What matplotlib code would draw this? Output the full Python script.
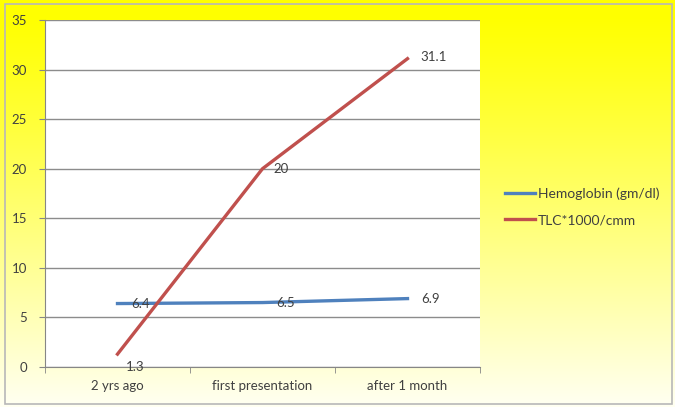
import numpy as np
from matplotlib import pyplot as plt
from matplotlib.patches import Rectangle

plt.rcParams['font.family'] = ['Lato', 'DejaVu Sans']

# chart data
visits = ["2 yrs ago", "first presentation", "after 1 month"]
hemoglobin = [6.4, 6.5, 6.9]
tlc = [1.3, 20, 31.1]
hb_labels = ["6.4", "6.5", "6.9"]
tlc_labels = ["1.3", "20", "31.1"]

W, H = 675, 407
TXT = "#404040"
fig = plt.figure(figsize=(W / 100, H / 100), dpi=100)

# yellow gradient backdrop, strong at the top, fading toward the bottom
bg = fig.add_axes([0, 0, 1, 1], zorder=-10)
t = np.clip((np.linspace(0, 1, 256) - 0.04) / 0.96, 0, 1) ** 1.1
grad = np.zeros((256, 1, 3))
grad[:, 0, 0] = 1.0
grad[:, 0, 1] = 1.0
grad[:, 0, 2] = 0.95 * t
bg.imshow(grad, aspect="auto", extent=[0, 1, 0, 1], origin="upper")
bg.set_xlim(0, 1)
bg.set_ylim(0, 1)
bg.axis("off")
fig.patches.append(Rectangle((5 / W, 3 / H), 667 / W, 400 / H, transform=fig.transFigure,
                             fill=False, edgecolor="#b8b8b8", linewidth=1.2))

ax = fig.add_axes([45 / W, (H - 367) / H, 435 / W, 347 / H])
ax.set_facecolor("white")

x = np.arange(len(visits))
ax.plot(x, hemoglobin, color="#4f81bd", linewidth=2.4, label="Hemoglobin (gm/dl)")
ax.plot(x, tlc, color="#c0504d", linewidth=2.4, label="TLC*1000/cmm")

for xi, v, s in zip(x, hemoglobin, hb_labels):
    ax.annotate(s, (xi, v), xytext=(10, 0), textcoords="offset points",
                fontsize=9.5, color=TXT, ha="left", va="center")
offsets = [(6, -9), (8, 0), (9, 1)]
for xi, v, s, off in zip(x, tlc, tlc_labels, offsets):
    ax.annotate(s, (xi, v), xytext=off, textcoords="offset points",
                fontsize=9.5, color=TXT, ha="left", va="center")

ax.set_xlim(-0.5, 2.5)
ax.set_ylim(0, 35)
ax.set_yticks(range(0, 36, 5))
ax.set_xticks(x)
ax.set_xticklabels(visits)
ax.set_xticks([-0.5, 0.5, 1.5, 2.5], minor=True)
ax.tick_params(axis="x", which="major", length=0, pad=9, labelsize=9.5, labelcolor=TXT)
ax.tick_params(axis="x", which="minor", length=4, color="#868686", direction="out")
ax.tick_params(axis="y", length=4, color="#868686", labelsize=9.5, labelcolor=TXT, pad=9)
ax.yaxis.grid(True, color="#8c8c8c", linewidth=1)
ax.set_axisbelow(True)
for side in ("top", "right"):
    ax.spines[side].set_visible(False)
for side in ("left", "bottom"):
    ax.spines[side].set_color("#868686")

fig.legend(loc="center left", bbox_to_anchor=(492 / W, 1 - 207 / H), frameon=False,
           fontsize=10, labelcolor=TXT, handlelength=2.2, handletextpad=0.2,
           labelspacing=1.0)

fig.savefig("out.png", dpi=100)
